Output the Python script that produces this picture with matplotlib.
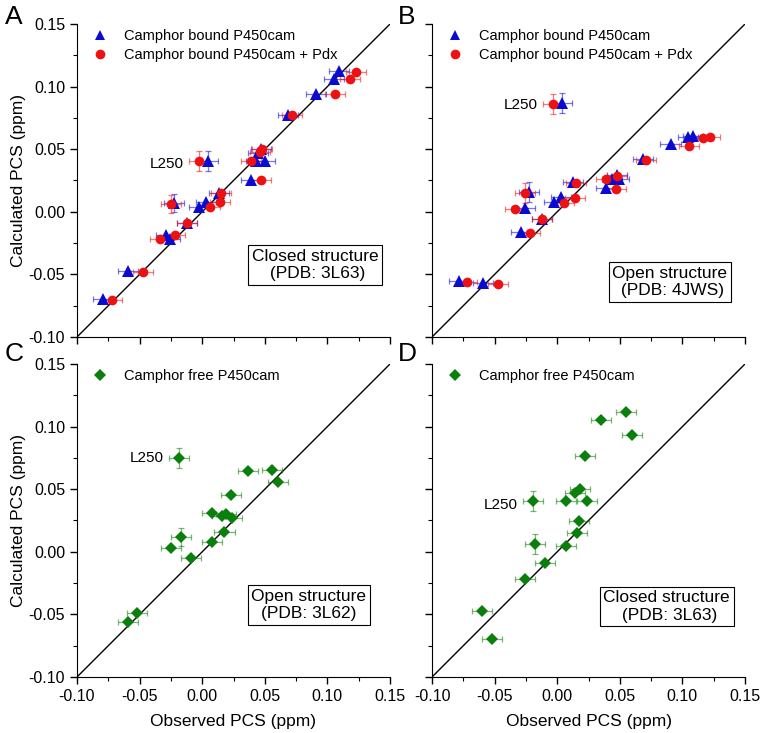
import matplotlib

matplotlib.use("Agg")
import matplotlib.pyplot as plt
from matplotlib.lines import Line2D
from matplotlib.ticker import MultipleLocator

plt.rcParams["font.family"] = ["Liberation Sans", "DejaVu Sans"]

# panel A: camphor bound, closed structure (observed, calculated)
a_blue_x = [0.1096, 0.1053, 0.0910, 0.0689, 0.0473, 0.0445, 0.0428, 0.0503, 0.0388, 0.0045,
            0.0133, 0.0032, -0.0027, -0.0223, -0.0122, -0.0287, -0.0255, -0.0593, -0.0793]
a_blue_y = [0.1128, 0.1064, 0.0941, 0.0774, 0.0500, 0.0468, 0.0402, 0.0402, 0.0255, 0.0402,
            0.0149, 0.0082, 0.0042, 0.0069, -0.0091, -0.0189, -0.0218, -0.0476, -0.0697]
a_blue_ye = [0, 0, 0, 0, 0, 0, 0, 0, 0, 0.008, 0, 0, 0, 0.007, 0, 0, 0, 0, 0]
a_red_x = [0.1229, 0.1181, 0.1061, 0.0721, 0.0479, 0.0460, 0.0388, 0.0473, -0.0029,
           0.0152, 0.0146, 0.0064, -0.0253, -0.0122, -0.0215, -0.0335, -0.0473, -0.0721]
a_red_y = [0.1120, 0.1061, 0.0939, 0.0771, 0.0500, 0.0475, 0.0402, 0.0250, 0.0402,
           0.0149, 0.0080, 0.0040, 0.0061, -0.0091, -0.0189, -0.0218, -0.0481, -0.0702]
a_red_ye = [0, 0, 0, 0, 0, 0, 0, 0, 0.008, 0, 0, 0, 0.007, 0, 0, 0, 0, 0]

# panel B: camphor bound, open structure
b_blue_x = [0.1082, 0.1045, 0.0905, 0.0685, 0.0474, 0.0437, 0.0495, 0.0389, 0.0127, 0.0034,
            -0.0029, 0.0040, -0.0225, -0.0259, -0.0119, -0.0291, -0.0786, -0.0590]
b_blue_y = [0.0606, 0.0601, 0.0540, 0.0420, 0.0295, 0.0263, 0.0263, 0.0189, 0.0237, 0.0117,
            0.0077, 0.0867, 0.0157, 0.0029, -0.0056, -0.0162, -0.0551, -0.0572]
b_blue_ye = [0, 0, 0, 0, 0, 0, 0, 0, 0, 0, 0, 0.008, 0.008, 0, 0, 0, 0, 0]
b_red_x = [0.1222, 0.1164, 0.1050, 0.0712, 0.0474, 0.0389, 0.0468, 0.0154, 0.0146, 0.0058,
           -0.0034, -0.0257, -0.0336, -0.0119, -0.0217, -0.0720, -0.0476]
b_red_y = [0.0601, 0.0593, 0.0529, 0.0412, 0.0282, 0.0261, 0.0184, 0.0231, 0.0112, 0.0069,
           0.0864, 0.0154, 0.0021, -0.0056, -0.0168, -0.0559, -0.0580]
b_red_ye = [0, 0, 0, 0, 0, 0, 0, 0, 0, 0, 0.008, 0.008, 0, 0, 0, 0, 0]

# panel C: camphor free, open structure
c_x = [-0.0189, 0.0362, 0.0559, 0.0609, 0.0229, 0.0080, 0.0157, 0.0189, 0.0237, 0.0178,
       0.0080, -0.0168, -0.0247, -0.0088, -0.0519, -0.0596]
c_y = [0.0747, 0.0646, 0.0657, 0.0556, 0.0457, 0.0309, 0.0285, 0.0303, 0.0269, 0.0160,
       0.0077, 0.0120, 0.0029, -0.0048, -0.0487, -0.0559]
c_ye = [0.008, 0, 0, 0, 0, 0, 0, 0, 0, 0, 0, 0.007, 0, 0, 0, 0]

# panel D: camphor free, closed structure
d_x = [0.0548, 0.0347, 0.0601, 0.0225, 0.0180, 0.0140, 0.0074, 0.0235, -0.0196, 0.0172,
       0.0161, 0.0074, -0.0177, -0.0098, -0.0257, -0.0600, -0.0519]
d_y = [0.1120, 0.1056, 0.0936, 0.0769, 0.0503, 0.0471, 0.0402, 0.0402, 0.0402, 0.0250,
       0.0149, 0.0043, 0.0061, -0.0088, -0.0215, -0.0476, -0.0700]
d_ye = [0, 0, 0, 0, 0, 0, 0, 0, 0.008, 0, 0, 0, 0.008, 0, 0, 0, 0]

XERR = 0.008
LIM = (-0.10, 0.15)
TICKS = [-0.10, -0.05, 0.00, 0.05, 0.10, 0.15]

BLUE = "#0a0ad2"
RED = "#ee1111"
GREEN = "#0b7f0b"


def _series(ax, x, y, ye, color, marker, size, label):
    ax.errorbar(x, y, xerr=XERR, yerr=ye, fmt="none", ecolor=color, alpha=0.55,
                elinewidth=0.9, capsize=2.2, capthick=0.9, zorder=2)
    ax.plot(x, y, linestyle="none", marker=marker, markersize=size, color=color,
            markeredgewidth=0, zorder=3, label=label)


def _frame(ax, show_x, show_y):
    ax.set_xlim(*LIM)
    ax.set_ylim(*LIM)
    ax.plot(LIM, LIM, color="black", lw=1.0, zorder=1)
    for side in ("top", "right"):
        ax.spines[side].set_visible(False)
    ax.set_xticks(TICKS)
    ax.set_yticks(TICKS)
    ax.xaxis.set_minor_locator(MultipleLocator(0.025))
    ax.yaxis.set_minor_locator(MultipleLocator(0.025))
    ax.tick_params(which="major", direction="out", length=5, width=1, labelsize=11.5)
    ax.tick_params(which="minor", direction="out", length=3, width=0.8)
    if show_x:
        ax.set_xticklabels([f"{t:.2f}" for t in TICKS])
        ax.set_xlabel("Observed PCS (ppm)", fontsize=12.5, labelpad=7)
    else:
        ax.set_xticklabels([])
    if show_y:
        ax.set_yticklabels([f"{t:.2f}" for t in TICKS])
        ax.set_ylabel("Calculated PCS (ppm)", fontsize=12.5, labelpad=2)
    else:
        ax.set_yticklabels([])


def _box(ax, text, x, y):
    ax.text(x, y, text, transform=ax.transAxes, ha="center", va="center",
            multialignment="center", fontsize=12.5, zorder=4,
            bbox=dict(boxstyle="square,pad=0.2", facecolor="white", edgecolor="black", lw=0.8))


def _legend(ax, handles):
    ax.legend(handles=handles, loc="upper left", bbox_to_anchor=(0.0, 1.02), frameon=False,
              fontsize=10.5, handletextpad=0.9, labelspacing=0.3, handlelength=1.5,
              borderaxespad=0.4)


fig = plt.figure(figsize=(7.62, 7.33), dpi=100)
W = 313 / 762
H = 313 / 733
ax_a = fig.add_axes([77 / 762, (733 - 337) / 733, W, H])
ax_b = fig.add_axes([432 / 762, (733 - 337) / 733, W, H])
ax_c = fig.add_axes([77 / 762, (733 - 677) / 733, W, H])
ax_d = fig.add_axes([432 / 762, (733 - 677) / 733, W, H])

_frame(ax_a, False, True)
_frame(ax_b, False, False)
_frame(ax_c, True, True)
_frame(ax_d, True, False)

bound_handles = [
    Line2D([], [], linestyle="none", marker="^", markersize=7.5, color=BLUE,
           markeredgewidth=0, label="Camphor bound P450cam"),
    Line2D([], [], linestyle="none", marker="o", markersize=7, color=RED,
           markeredgewidth=0, label="Camphor bound P450cam + Pdx"),
]
free_handles = [
    Line2D([], [], linestyle="none", marker="D", markersize=6.5, color=GREEN,
           markeredgewidth=0, label="Camphor free P450cam"),
]

_series(ax_a, a_blue_x, a_blue_y, a_blue_ye, BLUE, "^", 8, "Camphor bound P450cam")
_series(ax_a, a_red_x, a_red_y, a_red_ye, RED, "o", 7, "Camphor bound P450cam + Pdx")
_legend(ax_a, bound_handles)
_box(ax_a, "Closed structure\n (PDB: 3L63)", 0.76, 0.23)
ax_a.text(a_red_x[8] - 0.012, a_red_y[8] - 0.002, "L250", ha="right", va="center", fontsize=11)

_series(ax_b, b_blue_x, b_blue_y, b_blue_ye, BLUE, "^", 8, "Camphor bound P450cam")
_series(ax_b, b_red_x, b_red_y, b_red_ye, RED, "o", 7, "Camphor bound P450cam + Pdx")
_legend(ax_b, bound_handles)
_box(ax_b, "Open structure\n (PDB: 4JWS)", 0.76, 0.176)
ax_b.text(b_red_x[10] - 0.012, b_red_y[10] - 0.001, "L250", ha="right", va="center", fontsize=11)

_series(ax_c, c_x, c_y, c_ye, GREEN, "D", 6.5, "Camphor free P450cam")
_legend(ax_c, free_handles)
_box(ax_c, "Open structure\n(PDB: 3L62)", 0.74, 0.23)
ax_c.text(c_x[0] - 0.012, c_y[0], "L250", ha="right", va="center", fontsize=11)

_series(ax_d, d_x, d_y, d_ye, GREEN, "D", 6.5, "Camphor free P450cam")
_legend(ax_d, free_handles)
_box(ax_d, "Closed structure\n (PDB: 3L63)", 0.75, 0.225)
ax_d.text(d_x[8] - 0.012, d_y[8] - 0.003, "L250", ha="right", va="center", fontsize=11)

for label, x, y in (("A", 5, 5), ("B", 398, 5), ("C", 5, 342), ("D", 398, 342)):
    fig.text(x / 762, 1 - y / 733, label, ha="left", va="top", fontsize=19)

fig.savefig("out.png", dpi=100)
plt.close(fig)
